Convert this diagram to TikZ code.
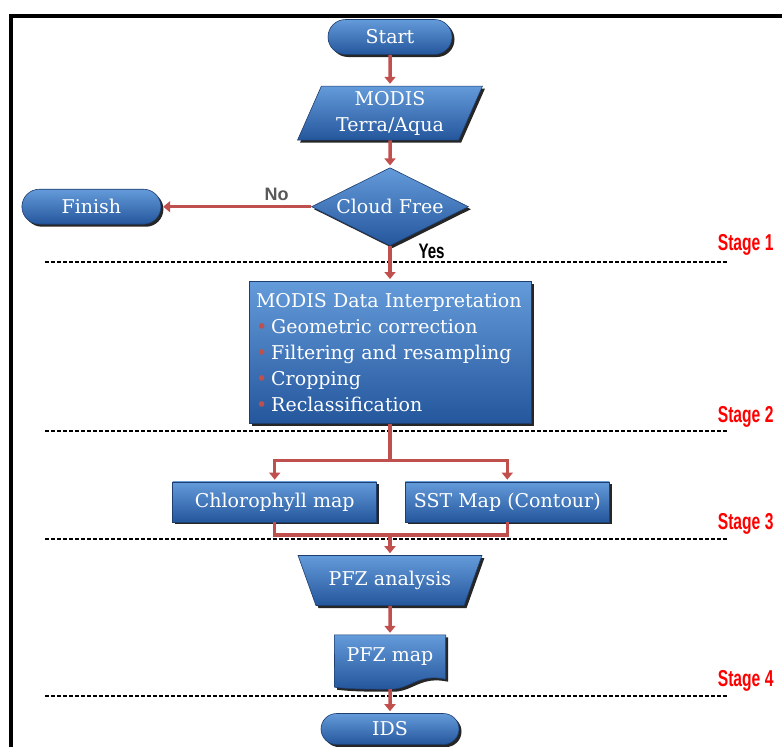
\documentclass[tikz,border=0pt]{standalone}
\usepackage{fontspec}
\setmainfont{DejaVu Serif}
\newfontfamily\stagefont{Liberation Sans}
\usepackage{tikz}
\usetikzlibrary{shapes.geometric,shapes.misc,shadows,positioning,backgrounds,arrows.meta}
\definecolor{boxtop}{RGB}{100,155,218}
\definecolor{boxbot}{RGB}{36,86,156}
\definecolor{boxline}{RGB}{30,62,112}
\definecolor{flowred}{RGB}{192,80,77}
\definecolor{stagered}{RGB}{255,0,0}
\newcommand{\redbul}{\textcolor{flowred}{\textbullet}\hspace{4pt}}
\tikzset{
  ShapeFill/.style={draw=boxline,line width=0.6pt,top color=boxtop,bottom color=boxbot,
    drop shadow={shadow xshift=2.5pt,shadow yshift=-2.5pt,fill=black,opacity=0.85}},
  BoxStyle/.style={ShapeFill,text=white,font=\fontsize{19}{22}\selectfont,inner sep=2pt},
  TermStyle/.style={BoxStyle,rounded rectangle,minimum height=35pt},
  IOStyle/.style={BoxStyle,trapezium,trapezium left angle=68,trapezium right angle=112,
    trapezium stretches=true,minimum width=185pt,minimum height=54pt,align=center,
    font=\fontsize{19}{26}\selectfont},
  DecStyle/.style={BoxStyle,diamond,aspect=2,inner sep=0pt,minimum width=157pt,minimum height=78pt},
  ProcStyle/.style={BoxStyle,rectangle,minimum width=204pt,minimum height=40pt},
  ListStyle/.style={BoxStyle,rectangle,align=left,text width=268pt,inner sep=7pt,
    minimum height=142pt,font=\fontsize{19}{26}\selectfont},
  ManStyle/.style={BoxStyle,trapezium,shape border rotate=180,trapezium angle=56,
    trapezium stretches=true,minimum width=184pt,minimum height=50pt},
  DocStyle/.style={text=white,font=\fontsize{19}{22}\selectfont,minimum width=111pt,minimum height=44pt},
  FlowStyle/.style={draw=flowred,line width=3.5pt},
  FlowArrow/.style={FlowStyle,->,>={Triangle[width=11pt,length=7pt]},shorten >=2pt},
  SepStyle/.style={draw=black,line width=1.8pt,dash pattern=on 4pt off 2pt},
  StageStyle/.style={text=stagered,font=\stagefont\bfseries\fontsize{23}{24}\selectfont},
  YesStyle/.style={text=black,font=\stagefont\bfseries\fontsize{21}{22}\selectfont},
  NoStyle/.style={text=black!65,font=\stagefont\bfseries\fontsize{18}{20}\selectfont}
}

\begin{document}
\begin{tikzpicture}[x=1pt,y=-1pt]
  \useasboundingbox (0,0) rectangle (782,747);
  \draw[line width=4pt] (11,747) |- (782,16);

  \foreach \y in {262,431,539,696}
    \draw[SepStyle] (45,\y) -- (728,\y);
  \foreach \n/\y in {1/245,2/417,3/524,4/681}
    \node[StageStyle,anchor=east] (stage\n) at (777,\y) {\scalebox{0.68}[1]{Stage \n}};

  \node[TermStyle,minimum width=128pt] (start) at (390,37) {Start};
  \node[IOStyle,below=31pt of start] (modis) {MODIS\\Terra/Aqua};
  \node[DecStyle,below=27pt of modis] (cloud) {Cloud Free};
  \node[TermStyle,minimum width=143pt,left=150pt of cloud] (finish) {Finish};
  \node[ListStyle,below=35pt of cloud] (interp) {MODIS Data Interpretation\\
    \redbul Geometric correction\\
    \redbul Filtering and resampling\\
    \redbul Cropping\\
    \redbul Reclassification};
  \coordinate[below=37pt of interp] (split);
  \node[ProcStyle,below left=21pt and 13pt of split] (chl) {Chlorophyll map};
  \node[ProcStyle,below right=21pt and 15pt of split] (sst) {SST Map (Contour)};
  \coordinate[below=13pt of chl.south] (mleft);
  \coordinate (merge) at (mleft -| start);
  \node[ManStyle,below=20pt of merge] (pfz) {PFZ analysis};
  \node[DocStyle,below=29pt of pfz] (pfzmap) {PFZ map};
  \begin{scope}[on background layer]
    \path[ShapeFill] (pfzmap.north west) -- (pfzmap.north east) -- (pfzmap.south east)
      .. controls +(-28,-6) and +(20,0) .. ++(-55,10)
      .. controls +(-20,0) and +(15,2) .. ++(-56,-2) -- cycle;
  \end{scope}
  \node[TermStyle,minimum width=142pt,minimum height=31pt,below=34pt of pfzmap] (ids) {IDS};

  \draw[FlowArrow] (start) -- (modis);
  \draw[FlowArrow] (modis) -- (cloud);
  \draw[FlowArrow] (cloud.west) -- node[NoStyle,pos=0.23,above=1pt] (no) {No} (finish.east);
  \draw[FlowArrow] (cloud.south) -- (interp.north);
  \node[YesStyle,right=25pt of cloud.south,yshift=-5pt] (yes) {\scalebox{0.72}[1]{Yes}};
  \draw[FlowStyle] (interp.south) -- (split);
  \draw[FlowArrow] (split) -| (chl.north);
  \draw[FlowArrow] (split) -| (sst.north);
  \draw[FlowStyle] (chl.south) |- (merge) -| (sst.south);
  \draw[FlowArrow] (merge) -- (pfz.north);
  \draw[FlowArrow] (pfz) -- (pfzmap);
  \draw[FlowArrow] ([yshift=-10pt]pfzmap.south) -- (ids);
\end{tikzpicture}
\end{document}
